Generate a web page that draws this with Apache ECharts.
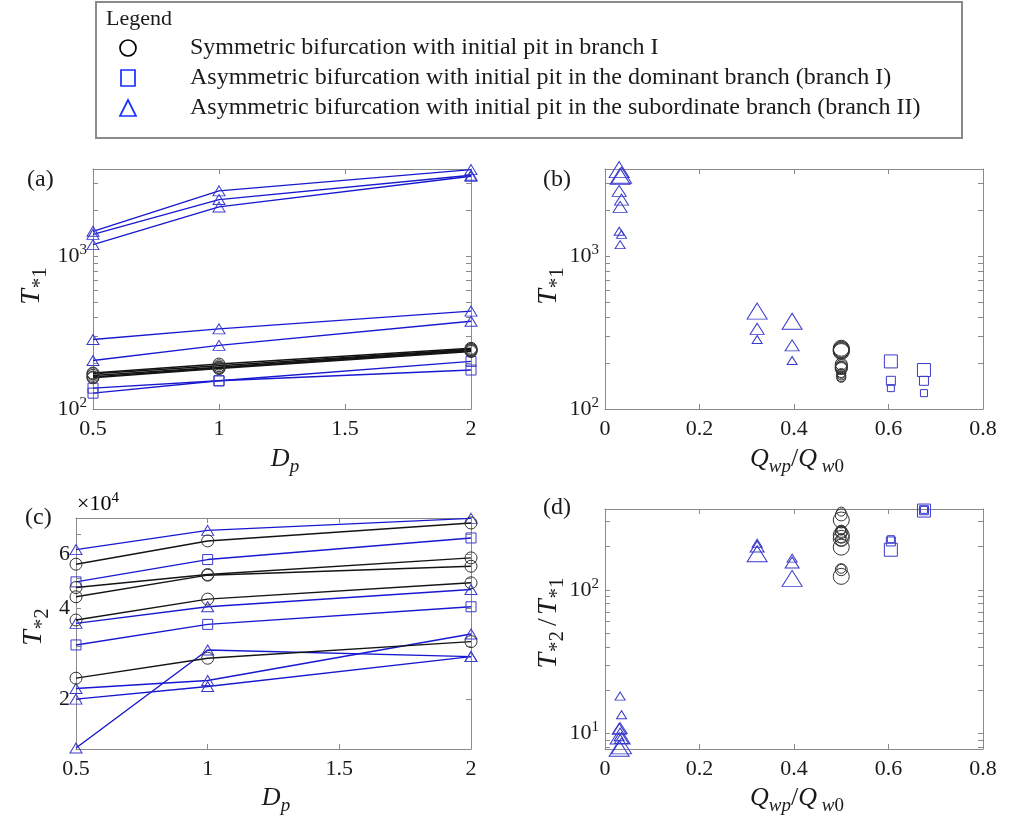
<!DOCTYPE html>
<html><head><meta charset="utf-8">
<script src="https://cdn.jsdelivr.net/npm/echarts@6/dist/echarts.min.js"></script>
<style>html,body{margin:0;padding:0;background:#fff}#c{width:1012px;height:827px}</style>
</head><body><div id="c"></div>
<script>
// ---------------- DATA ----------------
const Dp = [0.5, 1, 2];
const xTicksDp = [0.5, 1, 1.5, 2];
const xTicksQ = [0, 0.2, 0.4, 0.6, 0.8];

// Symmetric bifurcation (circles), Q = 0.5
const circleQ = [0.5, 0.5, 0.5, 0.5, 0.5];
const circleT1 = [[172, 197, 250], [170, 192, 246], [166, 188, 244], [162, 186, 241], [160, 184, 238]];
const circleT2 = [[55750, 66530, 76250], [46700, 51540, 58480], [43520, 51290, 54900], [36480, 42760, 48400], [23450, 27290, 30960]];
const circleRatio = [[350, 332, 306], [262, 255, 240], [258, 250, 228], [228, 222, 198], [140, 138, 124]];

// Asymmetric, pit in dominant branch (squares)
const squareQ = [0.605, 0.675];
const squareT1 = [[137, 153, 205], [127, 153, 180]];
const squareT2 = [[30180, 35290, 40350], [48750, 57750, 68050]];
const squareRatio = [[225, 217, 190], [360, 358, 356]];

// Asymmetric, pit in subordinate branch (triangles)
const triangleQ = [0.030, 0.032, 0.035, 0.322, 0.396];
const triangleT1 = [[1459, 2685, 3700], [1193, 2108, 3350], [1394, 2355, 3400], [285, 335, 438], [208, 261, 376]];
const triangleT2 = [[13800, 29060, 27630], [21680, 23040, 32800], [20000, 22020, 27630], [62300, 72100, 79000], [35560, 40340, 46000]];
const triangleRatio = [[9.5, 10.8, 7.9], [18.2, 10.9, 9.6], [13.5, 9.3, 8.2], [211, 200, 178], [166, 155, 120]];

// axis ranges and tick values
const rangeT1 = [100, 3735];
const rangeT2 = [13690, 79200];
const rangeRatio = [7.8, 365];
const ticksT1 = [100, 200, 300, 400, 500, 600, 700, 800, 900, 1000, 2000, 3000];
const labelsT1 = [100, 1000];
const ticksT2 = [20000, 30000, 40000, 50000, 60000, 70000];
const labelsT2 = [20000, 40000, 60000];
const ticksRatio = [8, 9, 10, 20, 30, 40, 50, 60, 70, 80, 90, 100, 200, 300];
const labelsRatio = [10, 100];

// ---------------- STYLE ----------------
const FONT = '"Liberation Serif","Times New Roman",serif';
const AX = '#8a8a8a';
const TXT = '#1a1a1a';
const BLUE_LINE = '#1818d0';
const BLUE_MARK = '#3a3acc';
const BLACK = '#141414';
const EMPTY = 'rgba(0,0,0,0)';
const lineSymbolSize = { circle: 12, rect: 10, triangle: [12, 10] };
const scatterSizes = {
  circle: [9, 12, 16],
  rect: [7, 9, 13],
  triangle: [[10, 8], [14, 11], [20, 16]]
};

const grids = [
  { left: 93, top: 169, width: 378, height: 240 },
  { left: 605, top: 169, width: 378, height: 240 },
  { left: 76, top: 518, width: 395, height: 231 },
  { left: 605, top: 509, width: 378, height: 240 }
];

const richPow = {
  b: { fontSize: 22, fontFamily: FONT, color: TXT },
  s: { fontSize: 15, fontFamily: FONT, color: TXT, padding: [0, 0, 12, 0] }
};
const powFmt = v => '{b|10}{s|' + Math.round(Math.log10(v)) + '}';

function xAx(g, min, max, interval, pos, show) {
  return {
    type: 'value', gridIndex: g, position: pos, min: min, max: max, interval: interval,
    axisLine: { show: true, onZero: false, lineStyle: { color: AX, width: 1 } },
    axisTick: { show: true, inside: true, length: 5, lineStyle: { color: AX } },
    axisLabel: { show: show, color: TXT, fontFamily: FONT, fontSize: 22, margin: 9,
      formatter: v => String(+v.toFixed(2)) },
    splitLine: { show: false }
  };
}
function yAx(g, range, ticks, labels, pos, show, fmt) {
  return {
    type: 'log', logBase: 10, gridIndex: g, position: pos, min: range[0], max: range[1],
    axisLine: { show: true, onZero: false, lineStyle: { color: AX, width: 1 } },
    axisTick: { show: true, inside: true, length: 5, customValues: ticks, lineStyle: { color: AX } },
    axisLabel: { show: show, customValues: labels, formatter: fmt, rich: richPow,
      color: TXT, fontFamily: FONT, fontSize: 22, margin: 6 },
    splitLine: { show: false }, minorTick: { show: false }
  };
}

const xAxes = [
  xAx(0, 0.5, 2, 0.5, 'bottom', true),
  xAx(1, 0, 0.8, 0.2, 'bottom', true),
  xAx(2, 0.5, 2, 0.5, 'bottom', true),
  xAx(3, 0, 0.8, 0.2, 'bottom', true),
  xAx(0, 0.5, 2, 0.5, 'top', false),
  xAx(1, 0, 0.8, 0.2, 'top', false),
  xAx(2, 0.5, 2, 0.5, 'top', false),
  xAx(3, 0, 0.8, 0.2, 'top', false)
];
const c2Fmt = v => String(Math.round(v / 10000));
const yAxes = [
  yAx(0, rangeT1, ticksT1, labelsT1, 'left', true, powFmt),
  yAx(1, rangeT1, ticksT1, labelsT1, 'left', true, powFmt),
  yAx(2, rangeT2, ticksT2, labelsT2, 'left', true, c2Fmt),
  yAx(3, rangeRatio, ticksRatio, labelsRatio, 'left', true, powFmt),
  yAx(0, rangeT1, ticksT1, labelsT1, 'right', false, powFmt),
  yAx(1, rangeT1, ticksT1, labelsT1, 'right', false, powFmt),
  yAx(2, rangeT2, ticksT2, labelsT2, 'right', false, c2Fmt),
  yAx(3, rangeRatio, ticksRatio, labelsRatio, 'right', false, powFmt)
];

const series = [];
function addLines(axisIdx, rows, symbol, lineColor, markColor, width) {
  rows.forEach(vals => {
    series.push({
      type: 'line', xAxisIndex: axisIdx, yAxisIndex: axisIdx, clip: false,
      data: Dp.map((d, i) => [d, vals[i]]),
      symbol: symbol, symbolSize: lineSymbolSize[symbol], showAllSymbol: true,
      lineStyle: { color: lineColor, width: width },
      itemStyle: { color: EMPTY, borderColor: markColor, borderWidth: 1 },
      emphasis: { disabled: true }, animation: false, z: symbol === 'circle' ? 3 : 2
    });
  });
}
function addScatter(axisIdx, qs, rows, symbol, markColor) {
  rows.forEach((vals, r) => {
    series.push({
      type: 'scatter', xAxisIndex: axisIdx, yAxisIndex: axisIdx, clip: false,
      data: vals.map((v, i) => ({ value: [qs[r], v], symbolSize: scatterSizes[symbol][i] })),
      symbol: symbol,
      itemStyle: { color: EMPTY, borderColor: markColor, borderWidth: 1, opacity: 1 },
      emphasis: { disabled: true }, animation: false
    });
  });
}
// (a) T*1 vs Dp
addLines(0, triangleT1, 'triangle', BLUE_LINE, BLUE_MARK, 1.4);
addLines(0, squareT1, 'rect', BLUE_LINE, BLUE_MARK, 1.4);
addLines(0, circleT1, 'circle', BLACK, '#333', 1.5);
// (c) T*2 vs Dp
addLines(2, triangleT2, 'triangle', BLUE_LINE, BLUE_MARK, 1.4);
addLines(2, squareT2, 'rect', BLUE_LINE, BLUE_MARK, 1.4);
addLines(2, circleT2, 'circle', BLACK, '#333', 1.4);
// (b) T*1 vs Q
addScatter(1, triangleQ, triangleT1, 'triangle', BLUE_MARK);
addScatter(1, squareQ, squareT1, 'rect', BLUE_MARK);
addScatter(1, circleQ, circleT1, 'circle', '#333');
// (d) T*2/T*1 vs Q
addScatter(3, triangleQ, triangleRatio, 'triangle', BLUE_MARK);
addScatter(3, squareQ, squareRatio, 'rect', BLUE_MARK);
addScatter(3, circleQ, circleRatio, 'circle', '#333');

// ---------------- TEXT / LEGEND ----------------
const richTitle = {
  i: { fontSize: 26, fontFamily: FONT, fontStyle: 'italic', color: TXT },
  n: { fontSize: 26, fontFamily: FONT, color: TXT },
  sub: { fontSize: 19, fontFamily: FONT, fontStyle: 'italic', color: TXT, padding: [16, 0, 0, 0] },
  subn: { fontSize: 19, fontFamily: FONT, color: TXT, padding: [16, 0, 0, 0] }
};
const richY = {
  i: { fontSize: 28, fontFamily: FONT, fontStyle: 'italic', color: TXT },
  n: { fontSize: 28, fontFamily: FONT, color: TXT, padding: [0, 3, 0, 3] },
  subn: { fontSize: 21, fontFamily: FONT, color: TXT, padding: [17, 2, 0, 1] }
};
function txt(x, y, text, size) {
  return {
    type: 'text', x: x, y: y,
    style: { text: text, fontFamily: FONT, fontSize: size || 22, fill: TXT,
      align: 'left', verticalAlign: 'middle' }
  };
}
function title(x, y, text, rot, rich) {
  return {
    type: 'text', x: x, y: y, rotation: rot || 0,
    style: { text: text, rich: rich || richTitle, align: 'center', verticalAlign: 'middle', fill: TXT }
  };
}
const legendItems = [
  'Symmetric bifurcation with initial pit in branch I',
  'Asymmetric bifurcation with initial pit in the dominant branch (branch I)',
  'Asymmetric bifurcation with initial pit in the subordinate branch (branch II)'
];
const LEG_BLUE = '#1530ff';
const graphic = [
  { type: 'rect', shape: { x: 96, y: 2, width: 866, height: 136 },
    style: { fill: '#fff', stroke: '#8a8a8a', lineWidth: 2 } },
  txt(106, 19, 'Legend', 22),
  { type: 'circle', shape: { cx: 128, cy: 48, r: 8 }, style: { fill: 'none', stroke: '#000', lineWidth: 1.7 } },
  { type: 'rect', shape: { x: 121, y: 70, width: 14, height: 16 }, style: { fill: 'none', stroke: LEG_BLUE, lineWidth: 1.7 } },
  { type: 'polygon', shape: { points: [[120, 116], [136, 116], [128, 100]] }, style: { fill: 'none', stroke: LEG_BLUE, lineWidth: 1.7 } },
  txt(190, 48, legendItems[0], 24),
  txt(190, 78, legendItems[1], 24),
  txt(190, 108, legendItems[2], 24),
  txt(27, 180, '(a)', 24),
  txt(543, 180, '(b)', 24),
  txt(25, 518, '(c)', 24),
  txt(543, 508, '(d)', 24),
  title(285, 459, '{i|D}{sub|p}'),
  title(797, 459, '{i|Q}{sub|wp}{n|/}{i|Q}{sub| w}{subn|0}'),
  title(276, 798, '{i|D}{sub|p}'),
  title(797, 798, '{i|Q}{sub|wp}{n|/}{i|Q}{sub| w}{subn|0}'),
  title(32, 285, '{i|T}{subn|*1}', Math.PI / 2, richY),
  title(549, 285, '{i|T}{subn|*1}', Math.PI / 2, richY),
  title(34, 626, '{i|T}{subn|*2}', Math.PI / 2, richY),
  title(549, 622, '{i|T}{subn|*2}{n|/}{i|T}{subn|*1}', Math.PI / 2, richY),
  { type: 'text', x: 77, y: 504, style: { text: '{b|×10}{s|4}', rich: richPow, verticalAlign: 'middle' } }
];

const chart = echarts.init(document.getElementById('c'), null, { renderer: 'canvas' });
chart.setOption({
  backgroundColor: '#fff',
  animation: false,
  grid: grids,
  xAxis: xAxes,
  yAxis: yAxes,
  series: series,
  graphic: graphic
});
</script></body></html>
